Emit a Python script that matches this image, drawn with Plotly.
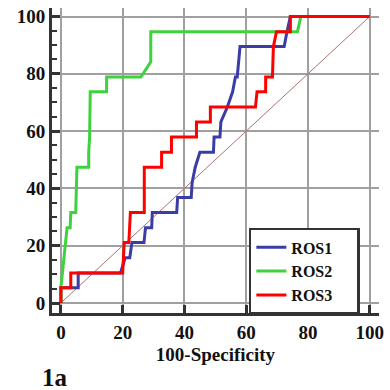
import plotly.graph_objects as go

# ROC curves: x = 100-Specificity, y = Sensitivity
ros1_x = [0, 0, 5.6, 5.6, 19.3, 20.8, 22.3, 23.0, 26.9, 27.4, 29.4, 29.6, 37.5, 37.8, 42.2, 42.5, 43.5, 45.0, 49.4, 49.6, 51.5, 51.8, 53.9, 55.6, 56.5, 57.1, 58.0, 72.3, 73.2, 74.3, 100]
ros1_y = [0, 5.3, 5.3, 10.5, 10.5, 15.8, 15.8, 21.1, 21.1, 26.3, 26.3, 31.6, 31.6, 36.8, 36.8, 42.1, 47.4, 52.6, 52.6, 57.9, 57.9, 63.2, 68.4, 73.7, 78.9, 78.9, 89.5, 89.5, 94.7, 100, 100]

ros2_x = [0, 0, 1.0, 1.5, 2.0, 3.0, 3.2, 4.8, 5.0, 5.2, 9.0, 9.0, 9.3, 9.5, 14.8, 14.8, 25.9, 29.1, 29.1, 76.6, 77.7, 100]
ros2_y = [0, 5.3, 15.8, 21.1, 26.3, 26.3, 31.6, 31.6, 36.8, 47.4, 47.4, 52.6, 57.9, 73.7, 73.7, 78.9, 78.9, 84.2, 94.7, 94.7, 100, 100]

ros3_x = [0, 0, 3.2, 3.2, 20.0, 20.5, 22.0, 22.5, 27.0, 27.0, 32.6, 32.6, 35.8, 35.8, 43.9, 43.9, 48.4, 48.4, 63.0, 63.5, 66.3, 66.3, 68.5, 68.8, 69.8, 74.3, 74.3, 100]
ros3_y = [0, 5.3, 5.3, 10.5, 10.5, 21.1, 21.1, 31.6, 31.6, 47.4, 47.4, 52.6, 52.6, 57.9, 57.9, 63.2, 63.2, 68.4, 68.4, 73.7, 73.7, 78.9, 78.9, 89.5, 94.7, 94.7, 100, 100]

ref_x = [0, 100]
ref_y = [0, 100]

series_names = ["ROS1", "ROS2", "ROS3"]

tick_vals = [0, 20, 40, 60, 80, 100]
tick_text = ["<b>0</b>", "<b>20</b>", "<b>40</b>", "<b>60</b>", "<b>80</b>", "<b>100</b>"]

SERIF = "Liberation Serif"
AXC = "#333333"
PAD = "&nbsp;" * 5

fig = go.Figure()
fig.add_trace(go.Scatter(x=ref_x, y=ref_y, mode="lines", line=dict(color="#A87272", width=1),
                         showlegend=False, hoverinfo="skip"))
fig.add_trace(go.Scatter(x=ros1_x, y=ros1_y, mode="lines", name=f"<b>{series_names[0]}</b>{PAD}",
                         line=dict(color="#3C3CA6", width=3)))
fig.add_trace(go.Scatter(x=ros2_x, y=ros2_y, mode="lines", name=f"<b>{series_names[1]}</b>{PAD}",
                         line=dict(color="#3FD23F", width=3)))
fig.add_trace(go.Scatter(x=ros3_x, y=ros3_y, mode="lines", name=f"<b>{series_names[2]}</b>{PAD}",
                         line=dict(color="#FF0000", width=3)))

tickfont = dict(family=SERIF, size=19, color="#111111")

fig.update_xaxes(range=[-2.88, 103.0], tickvals=tick_vals, ticktext=tick_text,
                 showgrid=True, gridcolor="#A0A0A0", gridwidth=1.5,
                 showline=True, linecolor=AXC, linewidth=3,
                 ticks="inside", ticklen=8, tickwidth=3, tickcolor=AXC,
                 tickfont=tickfont, zeroline=False,
                 title=dict(text="<b>100-Specificity</b>", font=dict(family=SERIF, size=19, color="#111111"),
                            standoff=6))
fig.update_yaxes(range=[-3.49, 102.97], tickvals=tick_vals, ticktext=tick_text,
                 showgrid=True, gridcolor="#A0A0A0", gridwidth=1.5,
                 showline=True, linecolor=AXC, linewidth=3,
                 ticks="inside", ticklen=8, tickwidth=3, tickcolor=AXC,
                 minor=dict(dtick=5, tick0=0, ticks="inside", ticklen=5, tickwidth=1.5, tickcolor=AXC, showgrid=False),
                 tickfont=tickfont, zeroline=False)

fig.add_annotation(text="<b>1a</b>", xref="paper", yref="paper", x=0.01, y=-0.213,
                   xanchor="center", yanchor="middle", showarrow=False,
                   font=dict(family=SERIF, size=25, color="#111111"))

fig.update_layout(
    width=390, height=390,
    margin=dict(l=52, r=6, t=8, b=77),
    paper_bgcolor="white", plot_bgcolor="white",
    legend=dict(x=0.602, y=0.279, xanchor="left", yanchor="top",
                bordercolor=AXC, borderwidth=2.5, bgcolor="white",
                font=dict(family=SERIF, size=16, color="#111111"),
                tracegroupgap=0, itemwidth=30),
)

fig.write_html("out.html")
